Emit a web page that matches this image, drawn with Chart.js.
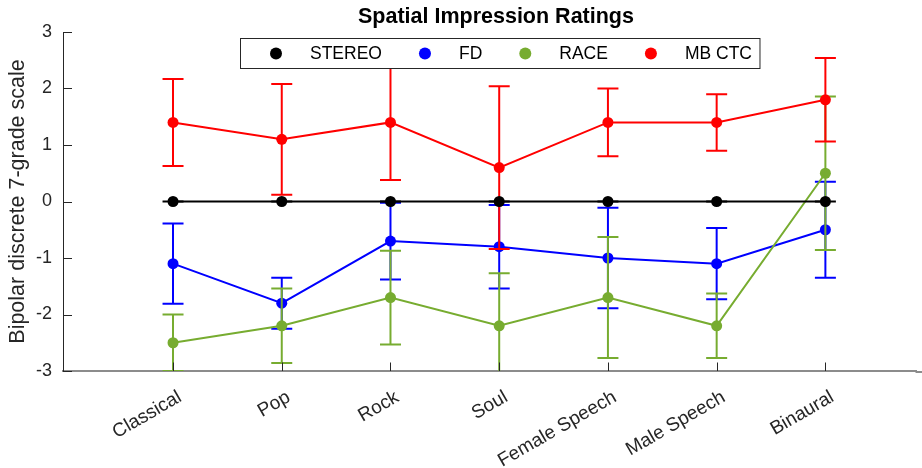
<!DOCTYPE html>
<html>
<head>
<meta charset="utf-8">
<script src="https://cdn.jsdelivr.net/npm/chart.js@4/dist/chart.umd.min.js"></script>
<style>
  html, body { margin: 0; padding: 0; background: #fff; }
  #wrap { width: 922px; height: 468px; }
</style>
</head>
<body>
<div id="wrap"><canvas id="c" width="922" height="468"></canvas></div>
<script>
const titleText = 'Spatial Impression Ratings';
const yAxisTitle = 'Bipolar discrete 7-grade scale';
const categories = ['Classical', 'Pop', 'Rock', 'Soul', 'Female Speech', 'Male Speech', 'Binaural'];
const yTicks = [-3, -2, -1, 0, 1, 2, 3];
const seriesNames = ['STEREO', 'FD', 'RACE', 'MB CTC'];

const stereoValues = [0, 0, 0, 0, 0, 0, 0];
const stereoErrors = [0, 0, 0, 0, 0, 0, 0];
const fdValues = [-1.1, -1.8, -0.7, -0.8, -1.0, -1.1, -0.5];
const fdErrors = [0.71, 0.45, 0.68, 0.74, 0.89, 0.63, 0.85];
const raceValues = [-2.5, -2.2, -1.7, -2.2, -1.7, -2.2, 0.5];
const raceErrors = [0.5, 0.66, 0.83, 0.93, 1.07, 0.57, 1.36];
const mbctcValues = [1.4, 1.1, 1.4, 0.6, 1.4, 1.4, 1.8];
const mbctcErrors = [0.77, 0.98, 1.02, 1.44, 0.6, 0.5, 0.74];

const FONT = "'Liberation Sans', Arial, Helvetica, sans-serif";
const TXT = '#262626';

function toPoints(vals) { return vals.map((v, i) => ({ x: i + 1, y: v })); }

function mkSet(label, vals, errs, color, order) {
  return {
    label: label,
    data: toPoints(vals),
    errors: errs,
    borderColor: color,
    backgroundColor: color,
    pointBackgroundColor: color,
    pointBorderColor: color,
    pointRadius: 5.5,
    pointBorderWidth: 0,
    borderWidth: 2,
    tension: 0,
    order: order
  };
}

const errorBarPlugin = {
  id: 'errorBars',
  afterDatasetDraw(chart, args) {
    const ds = chart.data.datasets[args.index];
    if (!ds.errors) return;
    const ctx = chart.ctx;
    const xs = chart.scales.x, ys = chart.scales.y;
    const a = chart.chartArea;
    ctx.save();
    ctx.beginPath();
    ctx.rect(a.left, a.top, a.right - a.left, a.bottom - a.top);
    ctx.clip();
    ctx.strokeStyle = ds.borderColor;
    ctx.lineWidth = 2;
    const capHalf = 10.5;
    ds.data.forEach((p, i) => {
      const e = ds.errors[i];
      const x = xs.getPixelForValue(p.x);
      const yt = ys.getPixelForValue(p.y + e);
      const yb = ys.getPixelForValue(p.y - e);
      ctx.beginPath();
      ctx.moveTo(x, yt); ctx.lineTo(x, yb);
      ctx.moveTo(x - capHalf, yt); ctx.lineTo(x + capHalf, yt);
      ctx.moveTo(x - capHalf, yb); ctx.lineTo(x + capHalf, yb);
      ctx.stroke();
    });
    ctx.restore();
  }
};

const decorPlugin = {
  id: 'decor',
  afterDraw(chart) {
    const ctx = chart.ctx;
    const xs = chart.scales.x, ys = chart.scales.y;
    const a = chart.chartArea;
    ctx.save();
    // bottom axis runs to the figure edge
    ctx.strokeStyle = '#8c8c8c';
    ctx.lineWidth = 2;
    ctx.beginPath();
    ctx.moveTo(a.right - 1, a.bottom + 1);
    ctx.lineTo(chart.width, a.bottom + 1);
    ctx.stroke();
    // inward tick marks
    ctx.strokeStyle = TXT;
    ctx.lineWidth = 1;
    ctx.beginPath();
    yTicks.forEach(v => {
      const y = Math.round(ys.getPixelForValue(v)) + 0.5;
      ctx.moveTo(a.left, y); ctx.lineTo(a.left + 9, y);
    });
    categories.forEach((c, i) => {
      const x = Math.round(xs.getPixelForValue(i + 1)) + 0.5;
      ctx.moveTo(x, a.bottom); ctx.lineTo(x, a.bottom - 8.5);
    });
    ctx.stroke();

    // title centred over the axes
    ctx.fillStyle = '#000';
    ctx.font = 'bold 21.5px ' + FONT;
    ctx.textAlign = 'center';
    ctx.textBaseline = 'middle';
    ctx.fillText(titleText, xs.getPixelForValue(3.97), 17);

    // legend
    const sets = chart.data.datasets;
    ctx.font = '17.5px ' + FONT;
    const boxL = 240.5, boxT = 38.5, boxH = 30;
    let x = boxL + 35.5;
    const cy = boxT + boxH / 2;
    const items = [];
    sets.forEach(ds => {
      const w = ctx.measureText(ds.label).width;
      items.push({ ds, dotX: x, textX: x + 34, w });
      x = x + 34 + w + 43;
    });
    const last = items[items.length - 1];
    const boxR = last.textX + last.w + 8;
    ctx.fillStyle = '#fff';
    ctx.fillRect(boxL, boxT, boxR - boxL, boxH);
    ctx.strokeStyle = TXT;
    ctx.lineWidth = 1;
    ctx.strokeRect(boxL, boxT, boxR - boxL, boxH);
    items.forEach(it => {
      ctx.fillStyle = it.ds.borderColor;
      ctx.beginPath();
      ctx.arc(it.dotX, cy, 6, 0, Math.PI * 2);
      ctx.fill();
      ctx.fillStyle = '#000';
      ctx.textAlign = 'left';
      ctx.textBaseline = 'middle';
      ctx.fillText(it.ds.label, it.textX, cy + 1);
    });
    ctx.restore();
  }
};

new Chart(document.getElementById('c'), {
  type: 'line',
  data: {
    datasets: [
      mkSet(seriesNames[0], stereoValues, stereoErrors, '#000000', 0),
      mkSet(seriesNames[1], fdValues, fdErrors, '#0000FF', 3),
      mkSet(seriesNames[2], raceValues, raceErrors, '#77AC30', 2),
      mkSet(seriesNames[3], mbctcValues, mbctcErrors, '#FF0000', 1)
    ]
  },
  options: {
    responsive: false,
    animation: false,
    devicePixelRatio: 1,
    layout: { padding: { top: 32, left: 0, right: 0, bottom: 0 } },
    plugins: {
      legend: { display: false },
      title: { display: false },
      tooltip: { enabled: false }
    },
    scales: {
      x: {
        type: 'linear',
        min: -0.012,
        max: 7.838,
        afterBuildTicks: (scale) => { scale.ticks = categories.map((c, i) => ({ value: i + 1 })); },
        afterFit: (scale) => { scale.height = 97; scale.paddingLeft = 0; scale.paddingRight = 0; },
        grid: { display: true, drawOnChartArea: false, drawTicks: false },
        border: { display: true, color: '#8c8c8c', width: 2 },
        ticks: {
          autoSkip: false,
          minRotation: 30,
          maxRotation: 30,
          padding: 15,
          labelOffset: 7,
          color: TXT,
          font: { family: FONT, size: 19 },
          callback: (v) => categories[v - 1]
        }
      },
      y: {
        min: -3,
        max: 3,
        afterBuildTicks: (scale) => { scale.ticks = yTicks.map(v => ({ value: v })); },
        afterFit: (scale) => { scale.width = 63; scale.paddingRight = 0; },
        grid: { display: true, drawOnChartArea: false, drawTicks: false },
        border: { display: true, color: TXT, width: 1 },
        ticks: {
          padding: 11,
          color: TXT,
          font: { family: FONT, size: 18 }
        },
        title: {
          display: true,
          text: yAxisTitle,
          color: TXT,
          font: { family: FONT, size: 21.5 },
          padding: { top: 5.5, bottom: 0 }
        }
      }
    }
  },
  plugins: [errorBarPlugin, decorPlugin]
});
</script>
</body>
</html>
